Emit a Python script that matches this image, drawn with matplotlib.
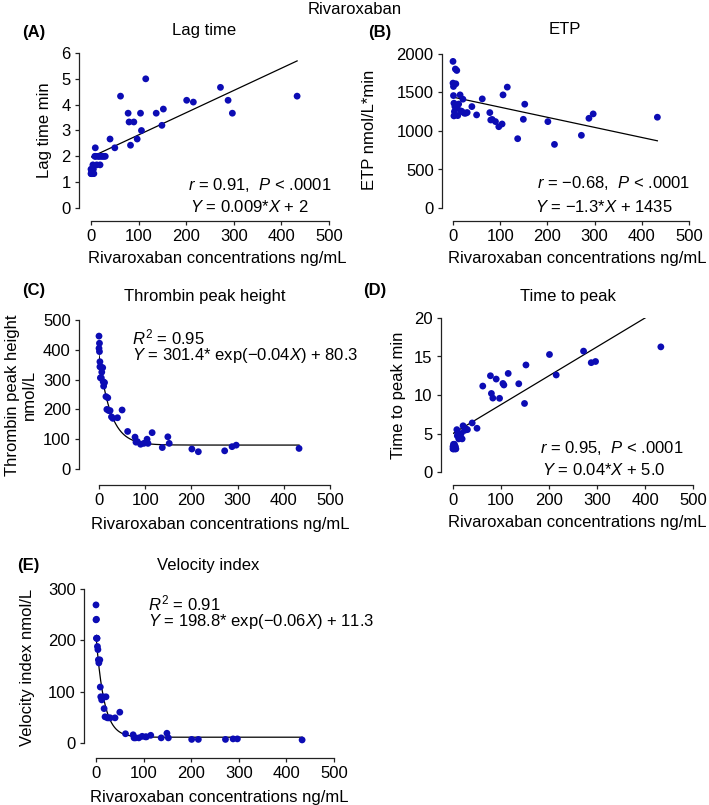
import numpy as np
import matplotlib
matplotlib.use('Agg')
import matplotlib.pyplot as plt

plt.rcParams['font.family'] = ['Liberation Sans', 'DejaVu Sans']
plt.rcParams['mathtext.fontset'] = 'custom'
plt.rcParams['mathtext.rm'] = 'Liberation Sans'
plt.rcParams['mathtext.it'] = 'Liberation Sans:italic'

# rivaroxaban concentration of each sample (ng/mL)
conc = [0, 0, 1, 1, 2, 2, 3, 4, 5, 6, 8, 9, 10, 12, 15, 17, 19, 21, 24, 27, 30,
        40, 50, 62, 78, 80, 83, 90, 97, 104, 106, 115, 137, 149, 152, 201, 215,
        272, 288, 297, 433]

lag_time = [1.33, 1.5, 1.33, 1.45, 1.33, 1.5, 1.33, 1.67, 1.5, 1.33, 2.0, 2.33,
            2.0, 1.67, 2.0, 2.0, 1.67, 2.0, 2.0, 2.0, 2.0, 2.67, 2.33, 4.33,
            3.67, 3.33, 2.43, 3.33, 2.67, 3.67, 3.0, 5.0, 3.67, 3.2, 3.83, 4.17,
            4.1, 4.67, 4.17, 3.67, 4.33]

etp = [1904, 1622, 1578, 1460, 1361, 1196, 1252, 1317, 1805, 1613, 1786, 1300,
       1200, 1350, 1469, 1260, 1252, 1413, 1231, 1231, 1240, 1317, 1209, 1417,
       1239, 1143, 1150, 1122, 1056, 1091, 1469, 1570, 900, 1152, 1348, 1122,
       826, 944, 1165, 1222, 1179]

peak_height = [446, 405, 422, 394, 360, 343, 306, 343, 306, 325, 340, 293, 278,
               290, 243, 200, 239, 196, 196, 175, 170, 172, 198, 126, 107, 90,
               92, 83, 86, 100, 86, 122, 72, 108, 86, 67, 58, 61, 75, 80, 69]

time_to_peak = [3.0, 3.3, 3.6, 3.0, 3.5, 3.2, 3.6, 3.0, 3.3, 3.0, 5.5, 4.7, 5.0,
                4.3, 4.6, 5.0, 4.3, 6.0, 5.4, 5.6, 5.5, 6.37, 5.68, 11.16, 12.5,
                10.2, 9.6, 12.07, 9.57, 11.5, 11.3, 12.8, 11.46, 8.9, 13.9, 15.26,
                12.6, 15.7, 14.2, 14.35, 16.25]

velocity = [269, 240, 241, 204, 204, 204, 188, 182, 162, 156, 162, 109, 90, 84,
            90, 67, 51, 90, 49, 49, 49, 49, 60, 18, 16, 10, 10, 10, 13, 12, 12,
            15, 10, 19, 10, 7, 7, 7, 8, 8, 6]

# fitted models
lag_fit = (0.0086, 1.97)
etp_fit = (-1.31, 1440)
ttp_fit = (0.0375, 5.0)
peak_fit = (301.4, 0.04, 80.3)
vel_fit = (198.8, 0.06, 11.3)

W, H = 709, 805
BLUE = '#0c0cb4'


def box(l, t, r, b):
    return [l / W, 1 - b / H, (r - l) / W, (b - t) / H]


def ftext(x, y, s, **kw):
    kw.setdefault('fontsize', 12)
    return fig.text(x / W, 1 - y / H, s, **kw)


def setup(ax, ymax, ystep, yoff, xoff):
    ax.set_xlim(0, 500)
    ax.set_ylim(0, ymax)
    ax.set_xticks(np.arange(0, 501, 100))
    ax.set_yticks(np.arange(0, ymax + ystep / 2, ystep))
    for s in ['top', 'right']:
        ax.spines[s].set_visible(False)
    ax.spines['left'].set_position(('outward', yoff * 0.72))
    ax.spines['bottom'].set_position(('outward', xoff * 0.72))
    for s in ['left', 'bottom']:
        ax.spines[s].set_linewidth(0.9)
        ax.spines[s].set_color('#222222')
    ax.tick_params(direction='out', length=3, width=0.9, color='#222222',
                   labelsize=12, pad=3)
    ax.patch.set_alpha(0)


def scatter(ax, y):
    ax.scatter(conc, y, s=24, color=BLUE, edgecolors='none', zorder=3, clip_on=False)


fig = plt.figure(figsize=(W / 100, H / 100), dpi=100)

xs = np.linspace(0, max(conc), 400)

# (A) Lag time
axA = fig.add_axes(box(91, 53, 329, 208))
setup(axA, 6, 1, 12, 13)
scatter(axA, lag_time)
axA.plot(xs, lag_fit[0] * xs + lag_fit[1], color='black', lw=0.9)

# (B) ETP
axB = fig.add_axes(box(453, 54, 689, 208))
setup(axB, 2000, 500, 11, 13)
scatter(axB, etp)
axB.plot(xs, etp_fit[0] * xs + etp_fit[1], color='black', lw=0.9)

# (C) Thrombin peak height
axC = fig.add_axes(box(99, 320, 330, 469))
setup(axC, 500, 100, 20, 16)
scatter(axC, peak_height)
axC.plot(xs, peak_fit[0] * np.exp(-peak_fit[1] * xs) + peak_fit[2], color='black', lw=0.9)

# (D) Time to peak
axD = fig.add_axes(box(453, 318, 693, 472))
setup(axD, 20, 5, 12, 13)
scatter(axD, time_to_peak)
axD.plot(xs, ttp_fit[0] * xs + ttp_fit[1], color='black', lw=0.9)

# (E) Velocity index
axE = fig.add_axes(box(96, 589, 334, 743))
setup(axE, 300, 100, 12, 15)
scatter(axE, velocity)
axE.plot(xs, vel_fit[0] * np.exp(-vel_fit[1] * xs) + vel_fit[2], color='black', lw=0.9)

# titles and labels
ftext(355, 10, 'Rivaroxaban', ha='center', va='center')
panels = [
    ('(A)', 22, 33, 'Lag time', 204, 30),
    ('(B)', 368, 33, 'ETP', 565, 30),
    ('(C)', 22, 290, 'Thrombin peak height', 205, 296),
    ('(D)', 363, 290, 'Time to peak', 568, 296),
    ('(E)', 17, 565, 'Velocity index', 208, 565),
]
for lab, lx, ly, title, tx, ty in panels:
    ftext(lx, ly, lab, ha='left', va='center', fontweight='bold')
    ftext(tx, ty, title, ha='center', va='center')

xlab = 'Rivaroxaban concentrations ng/mL'
for x, y in [(217, 259), (577, 258), (220, 525), (577, 523), (219, 797)]:
    ftext(x, y, xlab, ha='center', va='center')

ylabels = [
    (45, 130, 'Lag time min'),
    (370, 130, 'ETP nmol/L*min'),
    (21, 395, 'Thrombin peak height\nnmol/L'),
    (398, 395, 'Time to peak min'),
    (28, 667, 'Velocity index nmol/L'),
]
for x, y, s in ylabels:
    ftext(x, y, s, ha='center', va='center', rotation=90, linespacing=1.1)

notes = [
    (188, 185, r'$r$ = 0.91,  $P$ < .0001'),
    (190, 207, r'$Y$ = 0.009*$X$ + 2'),
    (537, 183, r'$r$ = −0.68,  $P$ < .0001'),
    (535, 207, r'$Y$ = −1.3*$X$ + 1435'),
    (132, 337, r'$R^{\mathrm{2}}$ = 0.95'),
    (132, 355, r'$Y$ = 301.4* exp(−0.04$X$) + 80.3'),
    (540, 448, r'$r$ = 0.95,  $P$ < .0001'),
    (542, 470, r'$Y$ = 0.04*$X$ + 5.0'),
    (148, 603, r'$R^{\mathrm{2}}$ = 0.91'),
    (148, 621, r'$Y$ = 198.8* exp(−0.06$X$) + 11.3'),
]
for x, y, s in notes:
    ftext(x, y, s, ha='left', va='center')

fig.savefig('out.png', dpi=100)
